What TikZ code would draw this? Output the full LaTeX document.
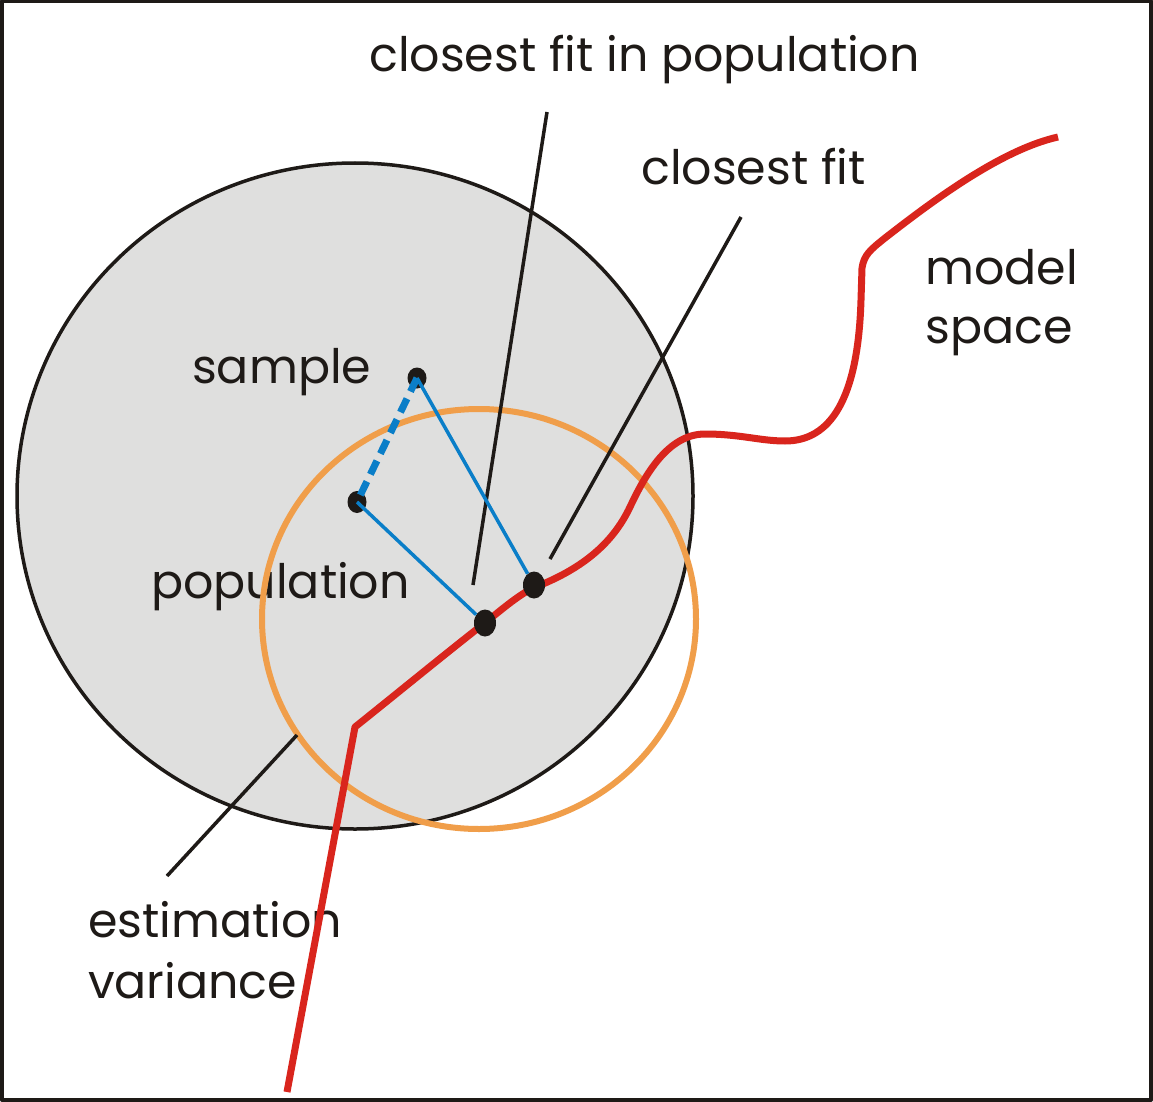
\documentclass[tikz,border=0pt]{standalone}
\usepackage{fontspec}
\setmainfont{Poppins}
\usetikzlibrary{shapes.geometric}
\definecolor{popgray}{HTML}{DFDFDE}
\definecolor{ink}{HTML}{1E1A17}
\definecolor{estorange}{HTML}{F09E4A}
\definecolor{modelred}{HTML}{D9251D}
\definecolor{linkblue}{HTML}{0A7EC8}
\tikzset{
  lbl/.style={anchor=base west, inner sep=0pt, text=ink, font=\fontsize{47.5}{59}\selectfont},
  dotnode/.style={ellipse, fill=ink, draw=none, inner sep=0pt},
  leader/.style={draw=ink, line width=3.5pt},
  bluelink/.style={draw=linkblue, line width=3.5pt},
  bluedash/.style={draw=linkblue, line width=7pt, dash pattern=on 15pt off 8pt},
}
\begin{document}
\begin{tikzpicture}[x=1pt, y=-1pt, line cap=butt, line join=round]
\useasboundingbox (0,0) rectangle (1153,1102);
\fill[white] (0,0) rectangle (1153,1102);
% population circle
\draw[fill=popgray, draw=ink, line width=3.5pt] (355,496) ellipse [x radius=338, y radius=333];
% labels
\node[lbl] (tcfp) at (369,72) {closest fit in population};
\node[lbl] (tcf) at (641,185) {closest fit};
\node[lbl] (tmodel) at (925,284) {model};
\node[lbl] (tspace) at (925,343) {space};
\node[lbl] (tsample) at (192,383) {sample};
\node[lbl] (tpop) at (151,598) {population};
\node[lbl] (test) at (88,937) {estimation};
\node[lbl] (tvar) at (88,998) {variance};
% estimation variance circle
\draw[draw=estorange, line width=6pt] (479,619) ellipse [x radius=217, y radius=210];
% leader lines
\coordinate (l1a) at (547,112); \coordinate (l1b) at (473,585);
\coordinate (l2a) at (741,217); \coordinate (l2b) at (550,559);
\coordinate (l3a) at (297,735); \coordinate (l3b) at (167,876);
\draw[leader] (l1a) -- (l1b);
\draw[leader] (l2a) -- (l2b);
\draw[leader] (l3a) -- (l3b);
% model space curve
\draw[draw=modelred, line width=7pt, line cap=butt]
  (287,1092) -- (355,727)
  .. controls (395,695) and (450,650) .. (486,622)
  .. controls (500,611) and (517,596) .. (533,588)
  .. controls (580,570) and (612,545) .. (630,507)
  .. controls (645,475) and (668,434) .. (705,434)
  .. controls (740,434) and (760,441) .. (785,441)
  .. controls (830,441) and (858,400) .. (861,300)
  -- (862,268)
  .. controls (864,255) and (870,250) .. (885,238)
  .. controls (930,203) and (1000,150) .. (1058,137);
% dots
\node[dotnode, minimum width=19pt, minimum height=21pt] (sample) at (417,378) {};
\node[dotnode, minimum width=19pt, minimum height=22pt] (pop) at (357,502) {};
\node[dotnode, minimum width=22pt, minimum height=27pt] (fitpop) at (485,623) {};
\node[dotnode, minimum width=22pt, minimum height=27pt] (fit) at (534,585) {};
% blue links
\draw[bluelink] (sample.center) -- (fit);
\draw[bluelink] (pop.center) -- (fitpop);
\draw[bluedash] (sample.center) -- (pop.center);
% frame
\draw[draw=ink, line width=4pt] (2,1.5) rectangle (1151,1100);
\end{tikzpicture}
\end{document}
